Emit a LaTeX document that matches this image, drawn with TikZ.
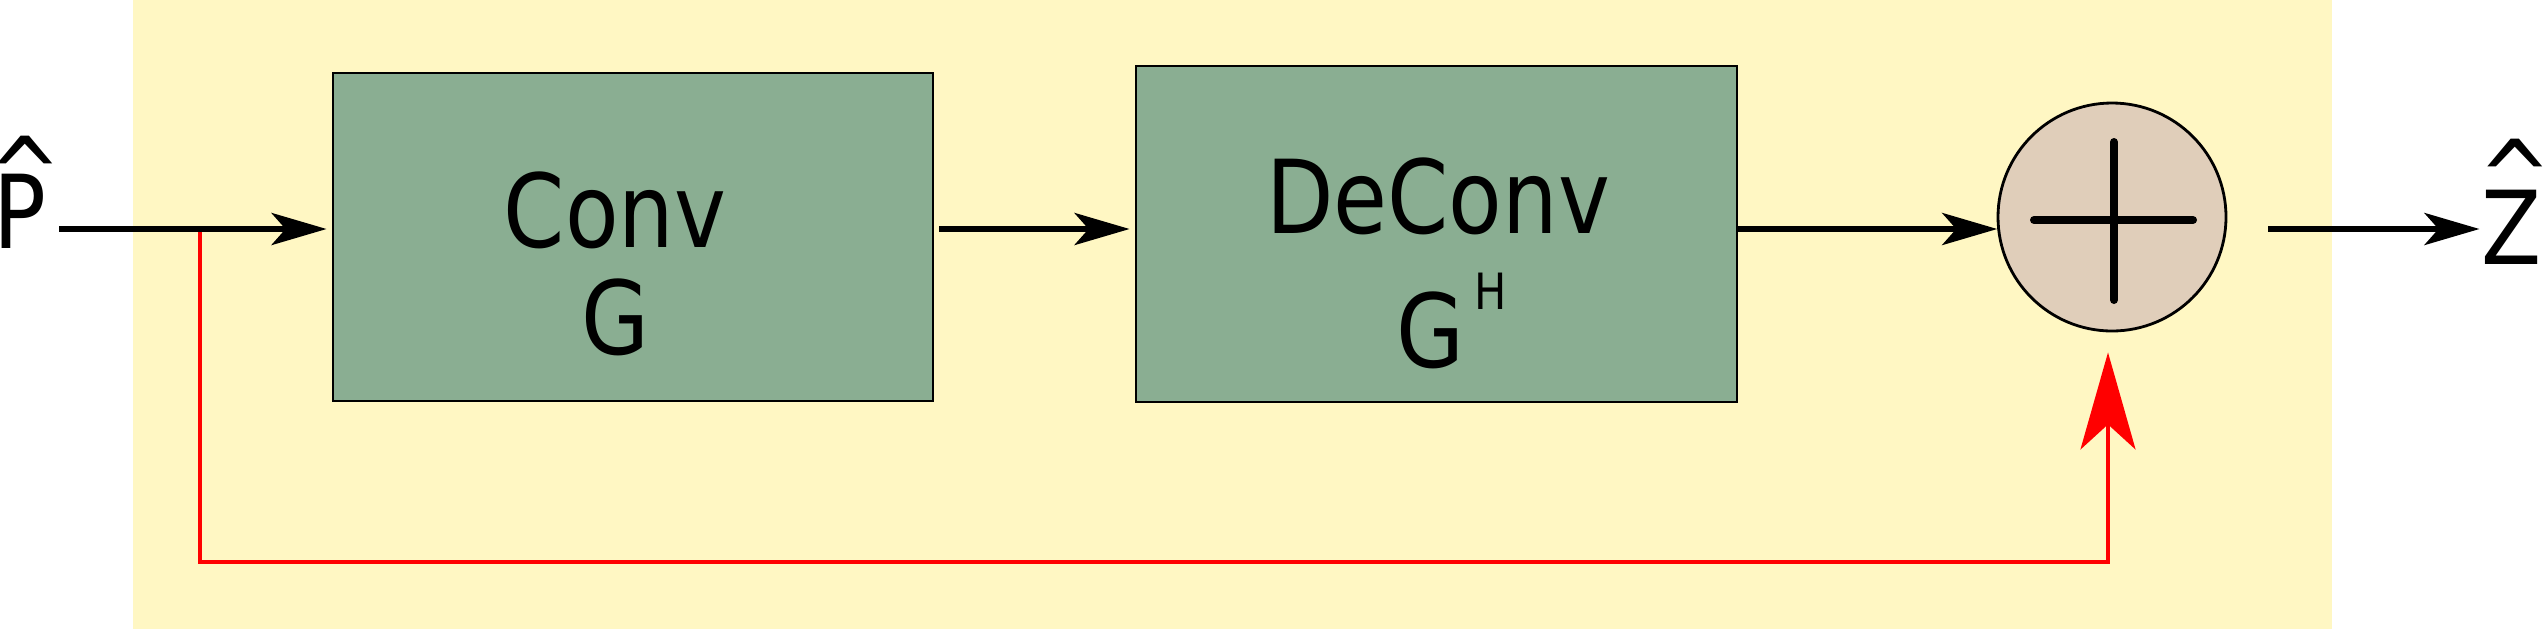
\documentclass[tikz,border=0pt]{standalone}
\usepackage{fontspec}
\setmainfont{DejaVu Sans}[FakeStretch=0.86]
\usetikzlibrary{arrows.meta,calc}
\definecolor{bgyellow}{HTML}{FFF7C3}
\definecolor{boxgreen}{HTML}{8AAE92}
\definecolor{sumfill}{HTML}{E0CEBA}
\begin{document}
\begin{tikzpicture}[x=0.5pt,y=-0.5pt,
  txt/.style={font=\fontsize{51}{61}\selectfont, inner sep=0pt, outer sep=0pt},
  blk/.style={draw=black, line width=1.4pt, fill=boxgreen, rectangle, inner sep=0pt},
  sumnode/.style={draw=black, circle, line width=1.4pt, fill=sumfill, minimum size=114pt, inner sep=0pt},
  plusbar/.style={line width=4pt, line cap=round},
  flow/.style={line width=3pt, -{Stealth[length=27.5pt,width=16pt,inset=7pt]}},
  fb/.style={red, line width=2pt, -{Stealth[length=48.5pt,width=27.5pt,inset=12.5pt]}}]
\useasboundingbox (0,0) rectangle (2545,629);
\fill[bgyellow] (133,0) rectangle (2332,629);
% blocks
\node[blk, minimum width=300pt, minimum height=164pt] (conv) at (633,237) {};
\node[blk, minimum width=300.5pt, minimum height=168pt] (deconv) at (1436.5,234) {};
\node[sumnode] (sum) at (2112,217) {};
\draw[plusbar] ($(sum.center)+(-78,3)$) -- ($(sum.center)+(81,3)$);
\draw[plusbar] ($(sum.center)+(2,-75)$) -- ($(sum.center)+(2,83)$);
% texts
\node[txt, anchor=base] (convt) at (615,247) {Conv};
\node[txt, anchor=base] (convg) at (615,354) {G};
\node[txt, anchor=base] (dect) at (1438,233) {DeConv};
\node[txt, anchor=base west] (decg) at (1396,367) {G\hspace{5.5pt}\raisebox{29pt}{\fontsize{25}{30}\selectfont H}};
\node[txt, anchor=base west] (pin) at (-6.6,248) {\makebox[0pt][l]{\hspace*{-2.5pt}\raisebox{19pt}{\textasciicircum}}P};
\node[txt, anchor=base west] (zout) at (2481.5,264) {\makebox[0pt][l]{\hspace*{-1.35pt}\raisebox{25.5pt}{\textasciicircum}}Z};
% coordinates
\coordinate (src) at (59,229);
\coordinate (branch) at (200,229);
\coordinate (fbl) at (200,562);
\coordinate (fbr) at (2108,562);
% feedback
\draw[fb, shorten >=10pt] (branch) -- (fbl) -- (fbr) -- (fbr |- sum.south);
% main flow
\draw[flow, shorten >=2.5pt] (src) -- (conv.west |- src);
\draw[flow, shorten <=2.5pt, shorten >=2.5pt] (conv.east |- src) -- (deconv.west |- src);
\draw[flow] (deconv.east |- src) -- (sum.186 |- src);
\draw[flow, shorten <=20.5pt, shorten >=1pt] (sum.east |- src) -- (zout.west |- src);
\end{tikzpicture}
\end{document}
